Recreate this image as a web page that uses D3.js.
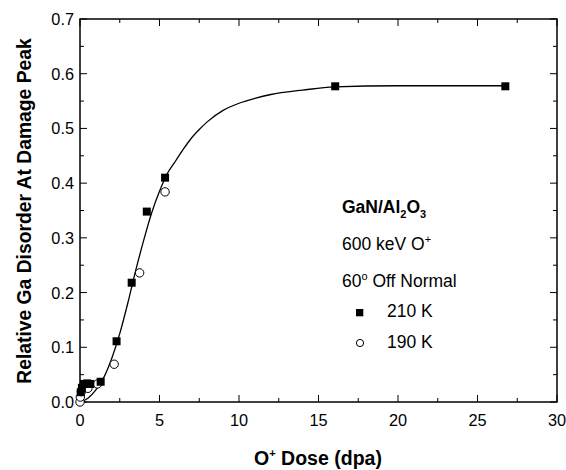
<!DOCTYPE html>
<html><head><meta charset="utf-8">
<script src="https://cdn.jsdelivr.net/npm/d3@7"></script>
<style>body{margin:0;background:#fff}svg{display:block}text{font-family:"Liberation Sans",Arial,sans-serif}</style>
</head><body><svg id="c" width="566" height="470"></svg>
<script>
const xTicks=[0,5,10,15,20,25,30];
const yTicks=[0,0.1,0.2,0.3,0.4,0.5,0.6,0.7];
const x210=[0.05,0.12,0.25,0.45,0.65,1.3,2.3,3.25,4.2,5.35,16.05,26.75];
const y210=[0.018,0.026,0.033,0.034,0.033,0.037,0.111,0.218,0.348,0.41,0.577,0.577];
const x190=[0,0.02,0.08,0.25,0.5,1.1,2.15,3.75,5.35];
const y190=[0.0,0.009,0.019,0.027,0.025,0.033,0.069,0.236,0.384];
const fitX=[0,0.5,1,1.5,2,2.5,3,3.5,4,4.5,5,5.5,6,6.5,7,7.5,8,9,10,11,12,14,16,20,26.75];
const fitY=[0,0.007,0.022,0.045,0.08,0.125,0.18,0.24,0.295,0.345,0.385,0.418,0.44,0.462,0.482,0.498,0.512,0.533,0.546,0.555,0.562,0.570,0.576,0.578,0.578];

const svg=d3.select("#c");
const L=80,R=557,T=19,B=402;
const x=d3.scaleLinear().domain([0,30]).range([L,R]);
const y=d3.scaleLinear().domain([0,0.7]).range([B,T]);
const g=svg.append("g");
g.append("rect").attr("x",L).attr("y",T).attr("width",R-L).attr("height",B-T).attr("fill","none").attr("stroke","#000").attr("stroke-width",1.5);
const xMinor=d3.range(0,30.01,2.5), yMinor=d3.range(0,0.701,0.05);
function tickLen(v,arr){return arr.some(t=>Math.abs(t-v)<1e-6)?7:4;}
xMinor.forEach(v=>{const l=tickLen(v,xTicks);
 g.append("line").attr("x1",x(v)).attr("x2",x(v)).attr("y1",B).attr("y2",B-l).attr("stroke","#000");
 g.append("line").attr("x1",x(v)).attr("x2",x(v)).attr("y1",T).attr("y2",T+l).attr("stroke","#000");});
yMinor.forEach(v=>{const l=tickLen(v,yTicks);
 g.append("line").attr("y1",y(v)).attr("y2",y(v)).attr("x1",L).attr("x2",L+l).attr("stroke","#000");
 g.append("line").attr("y1",y(v)).attr("y2",y(v)).attr("x1",R).attr("x2",R-l).attr("stroke","#000");});
xTicks.forEach(v=>g.append("text").attr("x",x(v)).attr("y",B+24).attr("text-anchor","middle").attr("font-size",16.3).text(v));
yTicks.forEach(v=>g.append("text").attr("x",L-6).attr("y",y(v)+6).attr("text-anchor","end").attr("font-size",16.3).text(d3.format(".1f")(v)));
// titles
const xt=svg.append("text").attr("x",318).attr("y",465).attr("text-anchor","middle").attr("font-size",19.5).attr("font-weight","bold");
xt.append("tspan").text("O");xt.append("tspan").attr("dy",-8).attr("font-size",11).text("+");xt.append("tspan").attr("dy",8).text(" Dose (dpa)");
svg.append("text").attr("transform","translate(31,211) rotate(-90)").attr("text-anchor","middle").attr("font-size",19.3).attr("font-weight","bold").text("Relative Ga Disorder At Damage Peak");
// fit curve
const fit=fitX.map((v,i)=>[v,fitY[i]]);
g.append("path").datum(fit).attr("d",d3.line().x(d=>x(d[0])).y(d=>y(d[1])).curve(d3.curveMonotoneX)).attr("fill","none").attr("stroke","#000").attr("stroke-width",1.3);
x190.forEach((v,i)=>g.append("circle").attr("cx",x(v)).attr("cy",y(y190[i])).attr("r",4.2).attr("fill","#fff").attr("stroke","#000").attr("stroke-width",1));
x210.forEach((v,i)=>g.append("rect").attr("x",x(v)-4).attr("y",y(y210[i])-4).attr("width",8).attr("height",8).attr("fill","#000"));
// legend
const lg=svg.append("g");
const t1=lg.append("text").attr("x",342).attr("y",213).attr("font-size",17.5).attr("font-weight","bold");
t1.append("tspan").text("GaN/Al");t1.append("tspan").attr("dy",5).attr("font-size",11).text("2");t1.append("tspan").attr("dy",-5).text("O");t1.append("tspan").attr("dy",5).attr("font-size",11).text("3");
const t2=lg.append("text").attr("x",342).attr("y",250).attr("font-size",17.5);
t2.append("tspan").text("600 keV O");t2.append("tspan").attr("dy",-7).attr("font-size",11).text("+");
const t3=lg.append("text").attr("x",342).attr("y",287).attr("font-size",17.5);
t3.append("tspan").text("60");t3.append("tspan").attr("dy",-7).attr("font-size",11).text("o");t3.append("tspan").attr("dy",7).text(" Off Normal");
lg.append("rect").attr("x",356).attr("y",309).attr("width",7.3).attr("height",7.3).attr("fill","#000");
lg.append("text").attr("x",387).attr("y",317).attr("font-size",17.5).text("210 K");
lg.append("circle").attr("cx",360).attr("cy",343).attr("r",3.6).attr("fill","#fff").attr("stroke","#000");
lg.append("text").attr("x",387).attr("y",348).attr("font-size",17.5).text("190 K");
</script></body></html>
